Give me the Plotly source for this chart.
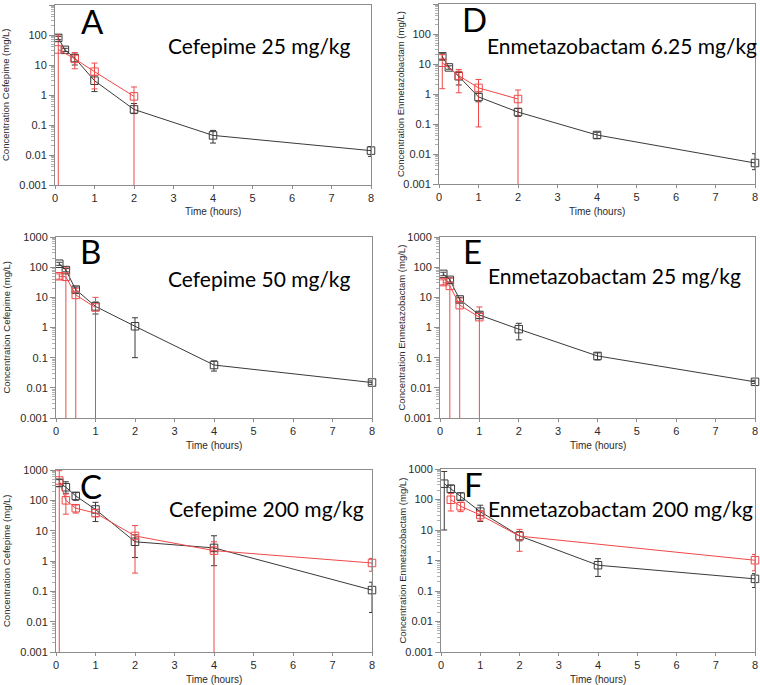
import plotly.graph_objects as go

# ---------------- data ----------------
time_full = [0.083, 0.25, 0.5, 1, 2, 4, 8]

# Panel A: Cefepime 25 mg/kg
a_black_t = time_full
a_black_y = [80, 32, 17, 3.0, 0.33, 0.045, 0.014]
a_black_ep = [10, 4, 6, 1.5, 0.19, 0.021, 0.005]
a_black_em = [10, 4, 7, 1.7, 0.09, 0.02, 0.005]
a_red_t = [0.083, 0.5, 1, 2]
a_red_y = [33, 16, 6, 0.9]
a_red_ep = [67, 10, 5.6, 0.95]
a_red_em = [40, 8.5, 4.4, 1.0]

# Panel B: Cefepime 50 mg/kg
b_black_t = time_full
b_black_y = [130, 80, 18, 5.0, 1.1, 0.057, 0.015]
b_black_ep = [15, 10, 4, 2, 1.0, 0.021, 0.002]
b_black_em = [15, 10, 4, 2.2, 1.0, 0.021, 0.002]
b_red_t = [0.083, 0.25, 0.5, 1]
b_red_y = [50, 48, 12, 4.6]
b_red_ep = [10, 52, 8, 5.4]
b_red_em = [10, 50, 13, 5.0]

# Panel C: Cefepime 200 mg/kg
c_black_t = time_full
c_black_y = [380, 270, 140, 50, 4.3, 2.7, 0.11]
c_black_ep = [100, 140, 40, 36, 3.0, 4.1, 0.09]
c_black_em = [100, 100, 40, 30, 3.0, 2.0, 0.09]
c_red_t = [0.083, 0.25, 0.5, 1, 2, 4, 8]
c_red_y = [450, 100, 55, 38, 6.7, 2.2, 0.86]
c_red_ep = [500, 62, 15, 12, 8, 2.1, 0.36]
c_red_em = [500, 65, 17, 9, 6.3, 2.3, 0.4]

# Panel D: Enmetazobactam 6.25 mg/kg
d_black_t = time_full
d_black_y = [18, 7.7, 3.9, 0.8, 0.25, 0.043, 0.005]
d_black_ep = [4, 1, 1.8, 0.25, 0.08, 0.01, 0.0052]
d_black_em = [4, 1, 1.9, 0.25, 0.07, 0.01, 0.002]
d_red_t = [0.083, 0.5, 1, 2]
d_red_y = [11, 4.1, 1.6, 0.68]
d_red_ep = [9.5, 2.5, 1.45, 0.68]
d_red_em = [9.5, 3.0, 1.52, 0.8]

# Panel E: Enmetazobactam 25 mg/kg
e_black_t = time_full
e_black_y = [60, 38, 8.5, 2.6, 0.88, 0.114, 0.0158]
e_black_ep = [8, 6, 1.5, 0.6, 0.5, 0.03, 0.002]
e_black_em = [8, 6, 1.5, 0.6, 0.49, 0.03, 0.002]
e_red_t = [0.083, 0.25, 0.5, 1]
e_red_y = [32, 24, 5.5, 2.2]
e_red_ep = [6, 20, 4, 2.6]
e_red_em = [6, 25, 6, 2.5]

# Panel F: Enmetazobactam 200 mg/kg
f_black_t = time_full
f_black_y = [330, 225, 125, 40, 6.4, 0.7, 0.25]
f_black_ep = [500, 70, 40, 25, 2.5, 0.45, 0.12]
f_black_em = [320, 60, 30, 21, 2.0, 0.4, 0.12]
f_red_t = [0.25, 0.5, 1, 2, 8]
f_red_y = [98, 60, 31, 6.3, 1.02]
f_red_ep = [60, 22, 12, 4.2, 0.56]
f_red_em = [56, 20, 11, 4.3, 0.56]

panel_letters = ["A", "B", "C", "D", "E", "F"]
panel_titles = ["Cefepime 25 mg/kg", "Cefepime 50 mg/kg", "Cefepime 200 mg/kg",
                "Enmetazobactam 6.25 mg/kg", "Enmetazobactam 25 mg/kg", "Enmetazobactam 200 mg/kg"]
y_titles = ["Concentration Cefepime (mg/L)"] * 3 + ["Concentration Enmetazobactam (mg/L)"] * 3
x_title = "Time (hours)"
x_ticks = [0, 1, 2, 3, 4, 5, 6, 7, 8]
y_tickvals = [0.001, 0.01, 0.1, 1, 10, 100, 1000]
y_ticktext = ["0.001", "0.01", "0.1", "1", "10", "100", "1000"]

panels = [
    (a_black_t, a_black_y, a_black_ep, a_black_em, a_red_t, a_red_y, a_red_ep, a_red_em),
    (b_black_t, b_black_y, b_black_ep, b_black_em, b_red_t, b_red_y, b_red_ep, b_red_em),
    (c_black_t, c_black_y, c_black_ep, c_black_em, c_red_t, c_red_y, c_red_ep, c_red_em),
    (d_black_t, d_black_y, d_black_ep, d_black_em, d_red_t, d_red_y, d_red_ep, d_red_em),
    (e_black_t, e_black_y, e_black_ep, e_black_em, e_red_t, e_red_y, e_red_ep, e_red_em),
    (f_black_t, f_black_y, f_black_ep, f_black_em, f_red_t, f_red_y, f_red_ep, f_red_em),
]

# ---------------- layout geometry (pixels) ----------------
W, H = 760, 685
# plot-area boxes: (left, right, top, bottom)
boxes = [
    (55, 371, 5, 185),     # A
    (56, 372, 237, 418),   # B
    (56, 372, 470, 652),   # C
    (439, 755, 4, 184),    # D
    (440, 755, 237, 418),  # E
    (441, 755, 469, 652),  # F
]
letter_pos = [(92, 21), (90, 251), (91, 486), (474, 19), (472, 251), (473, 484)]
title_pos = [(166, 45), (166, 278), (167, 508), (485, 45), (486, 275), (486, 508)]
ytitle_x = [6, 6, 6, 400, 401, 402]

BLACK = "#3a3a3a"
RED = "#f04848"
AXC = "#8c8c8c"
TXT = "#2a2a2a"

def px_x(v):
    return v / W

def px_y(v):
    return 1 - v / H

fig = go.Figure()
layout = dict(
    width=W, height=H,
    margin=dict(l=0, r=0, t=0, b=0),
    paper_bgcolor="white", plot_bgcolor="white",
    showlegend=False,
    template="none",
    annotations=[],
)

for i, (bt, by, bep, bem, rt, ry, rep, rem) in enumerate(panels):
    n = i + 1
    xa = "x" if n == 1 else f"x{n}"
    ya = "y" if n == 1 else f"y{n}"
    left, right, top, bottom = boxes[i]
    # error bars (clipped to plot area)
    for t, y, ep, em, col in [(bt, by, bep, bem, BLACK), (rt, ry, rep, rem, RED)]:
        fig.add_trace(go.Scatter(
            x=t, y=y, xaxis=xa, yaxis=ya, mode="markers",
            marker=dict(size=1, opacity=0, color=col),
            error_y=dict(type="data", array=ep, arrayminus=em, symmetric=False,
                         color=col, thickness=1, width=3),
            cliponaxis=True, hoverinfo="skip",
        ))
    # lines + markers
    for t, y, col in [(bt, by, BLACK), (rt, ry, RED)]:
        fig.add_trace(go.Scatter(
            x=t, y=y, xaxis=xa, yaxis=ya, mode="lines+markers",
            line=dict(color=col, width=1),
            marker=dict(symbol="square-open", size=7.5, color=col, line=dict(width=1, color=col)),
            cliponaxis=False,
        ))
    xkey = "xaxis" if n == 1 else f"xaxis{n}"
    ykey = "yaxis" if n == 1 else f"yaxis{n}"
    layout[xkey] = dict(
        domain=[px_x(left), px_x(right)], anchor=ya, range=[0, 8],
        tickvals=x_ticks, ticks="outside", ticklen=3, tickcolor=AXC,
        showline=True, linecolor=AXC, linewidth=1, mirror=True,
        showgrid=False, zeroline=False, automargin=False,
        tickfont=dict(family="Liberation Sans, Arial", size=11, color=TXT),
    )
    layout[ykey] = dict(
        domain=[px_y(bottom), px_y(top)], anchor=xa, type="log", range=[-3, 3],
        tickvals=y_tickvals, ticktext=y_ticktext, ticks="outside", ticklen=5, tickcolor=AXC,
        minor=dict(ticks="outside", ticklen=3, tickcolor="#b0b0b0", dtick="D1", showgrid=False),
        showline=True, linecolor=AXC, linewidth=1, mirror=True,
        showgrid=False, zeroline=False, automargin=False,
        tickfont=dict(family="Liberation Sans, Arial", size=11, color=TXT),
    )
    # panel letter
    lx, ly = letter_pos[i]
    layout["annotations"].append(dict(
        text=panel_letters[i], x=px_x(lx), y=px_y(ly), xref="paper", yref="paper",
        xanchor="center", yanchor="middle", showarrow=False,
        font=dict(family="Lato, Open Sans", size=33, color="black"),
    ))
    tx, ty = title_pos[i]
    layout["annotations"].append(dict(
        text=panel_titles[i], x=px_x(tx), y=px_y(ty), xref="paper", yref="paper",
        xanchor="left", yanchor="middle", showarrow=False,
        font=dict(family="Lato, Open Sans", size=21, color="black"),
    ))
    # x title
    layout["annotations"].append(dict(
        text=x_title, x=px_x((left + right) / 2), y=px_y(bottom + 27), xref="paper", yref="paper",
        xanchor="center", yanchor="middle", showarrow=False,
        font=dict(family="Liberation Sans, Arial", size=10, color=TXT),
    ))
    # y title
    layout["annotations"].append(dict(
        text=y_titles[i], x=px_x(ytitle_x[i]), y=px_y((top + bottom) / 2), xref="paper", yref="paper",
        xanchor="center", yanchor="middle", showarrow=False, textangle=-90,
        font=dict(family="Liberation Sans, Arial", size=9.5, color=TXT),
    ))

fig.update_layout(**layout)
fig.write_html("out.html", config={"displayModeBar": False},
               post_script="document.body.style.margin='0';document.body.style.padding='0';")
